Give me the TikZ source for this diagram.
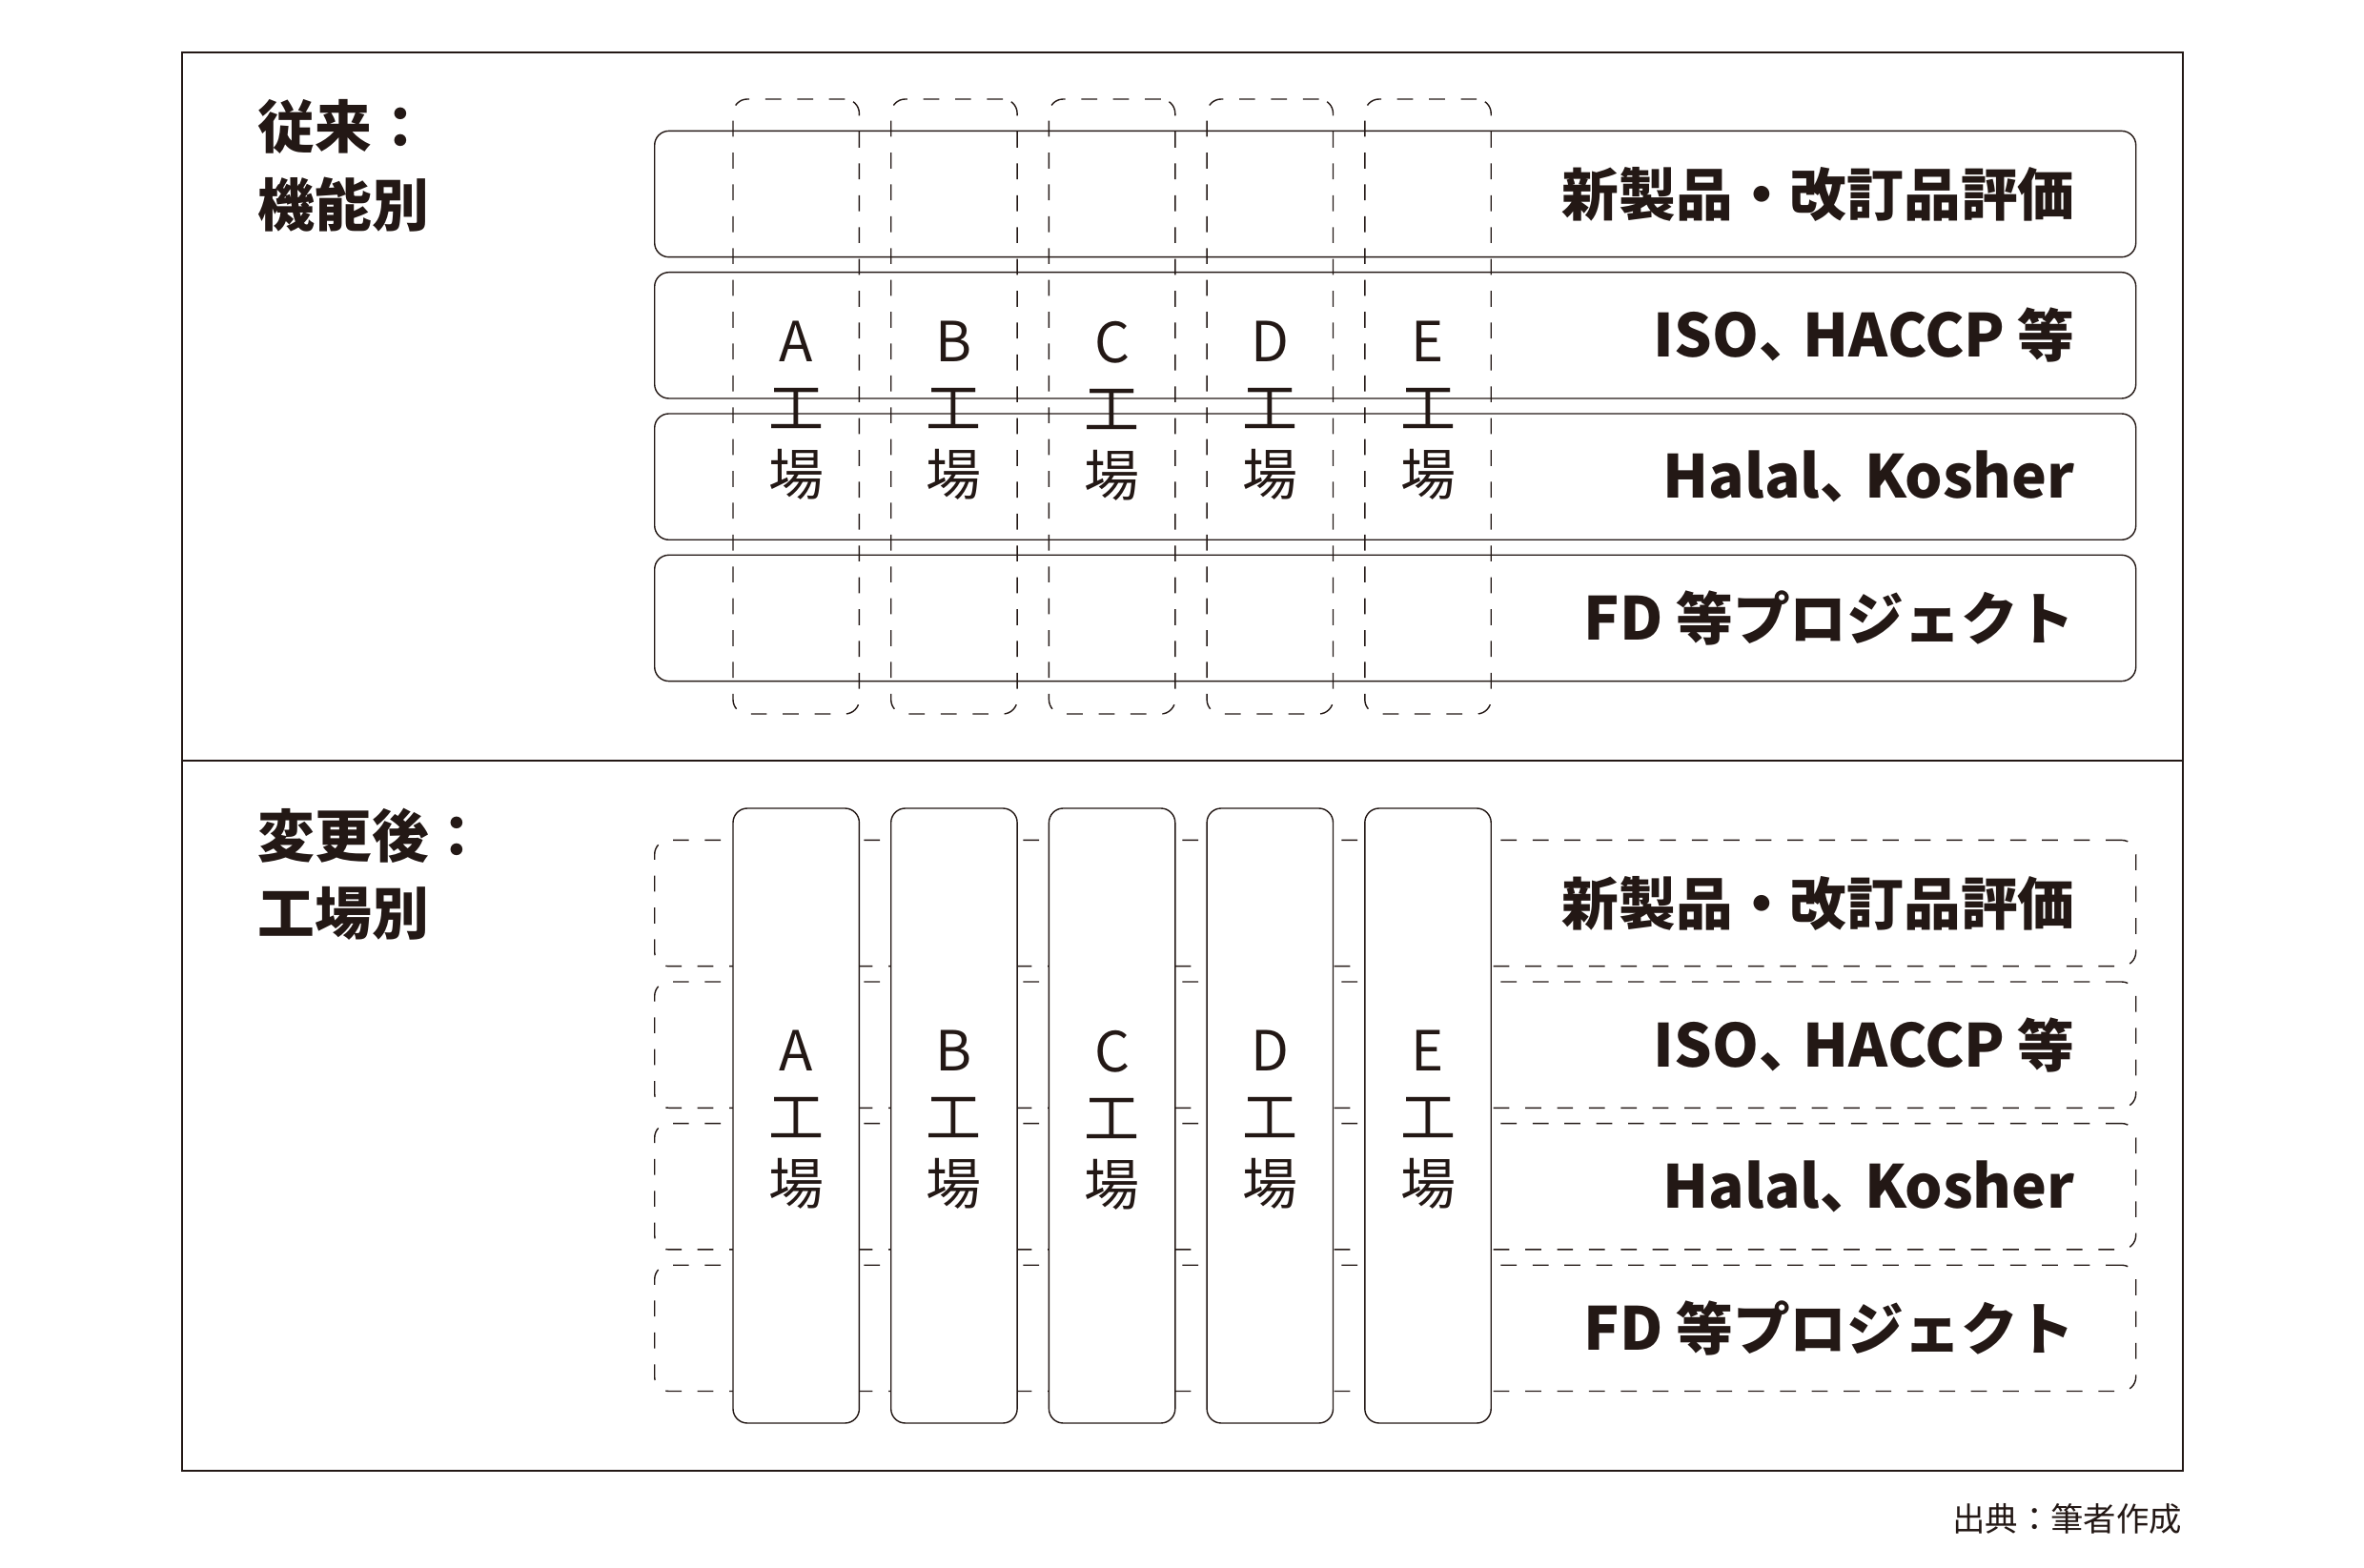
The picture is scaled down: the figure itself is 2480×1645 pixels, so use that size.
\documentclass[tikz,border=0pt]{standalone}
\usepackage{fontspec}
\setmainfont{Noto Sans CJK JP}
\definecolor{ink}{RGB}{35,24,21}
\newcommand{\hcomma}{、\kern-0.22em}
\newcommand{\lat}[1]{{\fontsize{17.7pt}{20pt}\selectfont #1}}
\begin{document}
\begin{tikzpicture}[x=0.1mm,y=-0.1mm, every node/.style={text=ink},
  rowbox/.style={draw=ink, line width=0.4pt, rounded corners=1.5mm, minimum width=155.4mm, minimum height=13.23mm, inner sep=0pt, anchor=north west},
  colbox/.style={draw=ink, line width=0.4pt, rounded corners=1.5mm, minimum width=13.24mm, minimum height=64.5mm, inner sep=0pt, anchor=north west},
  dashline/.style={dash pattern=on 1.67mm off 1.67mm},
  rowlabel/.style={font=\fontsize{17pt}{20pt}\selectfont\bfseries, anchor=east, inner sep=0pt},
  factlabel/.style={font=\fontsize{16.5pt}{19.9pt}\selectfont, align=center, inner sep=0pt},
  sectlabel/.style={font=\fontsize{17pt}{20pt}\selectfont\bfseries, anchor=west, inner sep=0pt},
  framebox/.style={draw=ink, line width=0.55pt, minimum width=209.9mm, minimum height=148.8mm, anchor=north west, inner sep=0pt},
]
\useasboundingbox (0,0) rectangle (2480,1645);
\node[framebox] (frame) at (190,54) {};
\coordinate (divl) at (190,798);
\coordinate (divr) at (2289,798);
\draw[ink, line width=0.55pt] (divl) -- (divr);

% top section: by function
\node[sectlabel] (t1) at (270,133) {従来：};
\node[sectlabel] (t2) at (270,214.4) {機能別};
\foreach \i/\t in {0/新製品・改訂品評価, 1/{\lat{ISO}\hcomma\lat{HACCP} 等}, 2/{\lat{Halal}\hcomma\lat{Kosher}}, 3/{\lat{FD} 等プロジェクト}} {
  \node[rowbox] (tr\i) at (686, 136.7+148.3*\i) {};
  \node[rowlabel] (trl\i) at ([xshift=-6.4mm]tr\i.east) {\t};
}
\foreach \i/\l in {0/A,1/B,2/C,3/D,4/E} {
  \node[colbox, dashline] (tc\i) at (768.3+165.7*\i, 103.3) {};
  \node[factlabel] (tcl\i) at ([yshift=-0.45mm]tc\i.center) {\l\\工\\場};
}

% bottom section: by factory
\node[sectlabel] (b1) at (270,877) {変更後：};
\node[sectlabel] (b2) at (270,958.4) {工場別};
\foreach \i/\t in {0/新製品・改訂品評価, 1/{\lat{ISO}\hcomma\lat{HACCP} 等}, 2/{\lat{Halal}\hcomma\lat{Kosher}}, 3/{\lat{FD} 等プロジェクト}} {
  \node[rowbox, dashline] (br\i) at (686, 880.7+148.6*\i) {};
  \node[rowlabel] (brl\i) at ([xshift=-6.4mm]br\i.east) {\t};
}
\foreach \i/\l in {0/A,1/B,2/C,3/D,4/E} {
  \node[colbox, fill=white] (bc\i) at (768.3+165.7*\i, 847.3) {};
  \node[factlabel] (bcl\i) at ([yshift=-0.45mm]bc\i.center) {\l\\工\\場};
}

\node[font=\fontsize{9.8pt}{11pt}\selectfont, anchor=east, inner sep=0pt] (src) at (2290,1593) {出典：筆者作成};
\end{tikzpicture}
\end{document}
